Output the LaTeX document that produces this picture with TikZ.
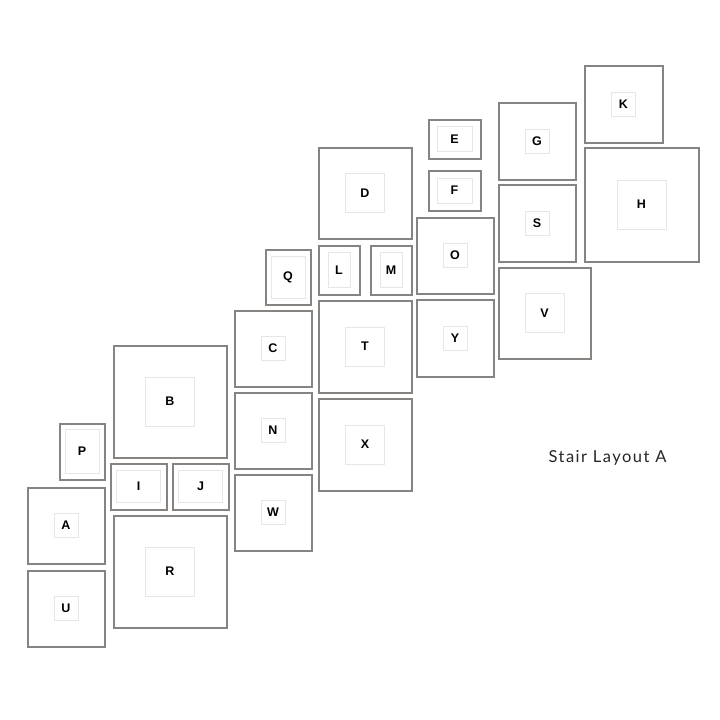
\documentclass[tikz,border=0pt]{standalone}
\usepackage{fontspec}
\setmainfont{Liberation Sans}
\newfontfamily\titlefont[LetterSpace=9]{Lato}
\definecolor{framec}{HTML}{878381}
\definecolor{matc}{HTML}{E6E6E6}
\tikzset{
  frm/.style={draw=framec, line width=2pt, fill=white, inner sep=0pt, outer sep=0pt},
  matbox/.style={draw=matc, line width=0.8pt, inner sep=0pt, outer sep=0pt, font=\bfseries\fontsize{12.5}{12.5}\selectfont},
}
% name, cx, cy, w, h, mat w, mat h, label
\newcommand\gframe[8]{%
  \node[frm, minimum width=#4pt, minimum height=#5pt] (#1) at (#2,#3) {};
  \node[matbox, minimum width=#6pt, minimum height=#7pt] (#1m) at (#1.center) {#8};
}
\begin{document}
\begin{tikzpicture}[x=1pt,y=-1pt]
\useasboundingbox[fill=white] (0,0) rectangle (720,720);
\gframe{P}{82}{451.5}{45}{56}{34}{44}{P}
\gframe{A}{66}{525.5}{77}{76}{24}{24}{A}
\gframe{U}{66}{608.5}{77}{76}{24}{24}{U}
\gframe{I}{138.5}{486.5}{56}{46}{44}{32}{I}
\gframe{J}{200.5}{486.5}{56}{46}{44}{32}{J}
\gframe{B}{170}{401.5}{113}{112}{49}{49}{B}
\gframe{R}{170}{571.5}{113}{112}{49}{49}{R}
\gframe{C}{273}{348.5}{77}{76}{24}{24}{C}
\gframe{N}{273}{430.5}{77}{76}{24}{24}{N}
\gframe{W}{273}{512.5}{77}{76}{24}{24}{W}
\gframe{Q}{288}{277}{45}{55}{34}{42}{Q}
\gframe{D}{365}{193}{93}{91}{39}{39}{D}
\gframe{L}{339}{270}{41}{49}{22}{35}{L}
\gframe{M}{391}{270}{41}{49}{22}{35}{M}
\gframe{T}{365}{346.5}{93}{92}{39}{39}{T}
\gframe{X}{365}{444.5}{93}{92}{39}{39}{X}
\gframe{E}{454.5}{139}{52}{39}{35}{25}{E}
\gframe{F}{454.5}{190.5}{52}{40}{35}{25}{F}
\gframe{O}{455}{255.5}{77}{76}{24}{24}{O}
\gframe{Y}{455}{338}{77}{77}{24}{24}{Y}
\gframe{G}{537}{141}{77}{77}{24}{24}{G}
\gframe{S}{537}{223}{77}{77}{24}{24}{S}
\gframe{V}{544.5}{313}{92}{91}{39}{39}{V}
\gframe{K}{623.5}{104}{78}{77}{24}{24}{K}
\gframe{H}{641.5}{204.5}{114}{114}{49}{49}{H}
\node[font=\titlefont\fontsize{16.5}{16.5}\selectfont, inner sep=0pt, text=black!85] (title) at (607.5,458) {Stair Layout A};
\end{tikzpicture}
\end{document}
